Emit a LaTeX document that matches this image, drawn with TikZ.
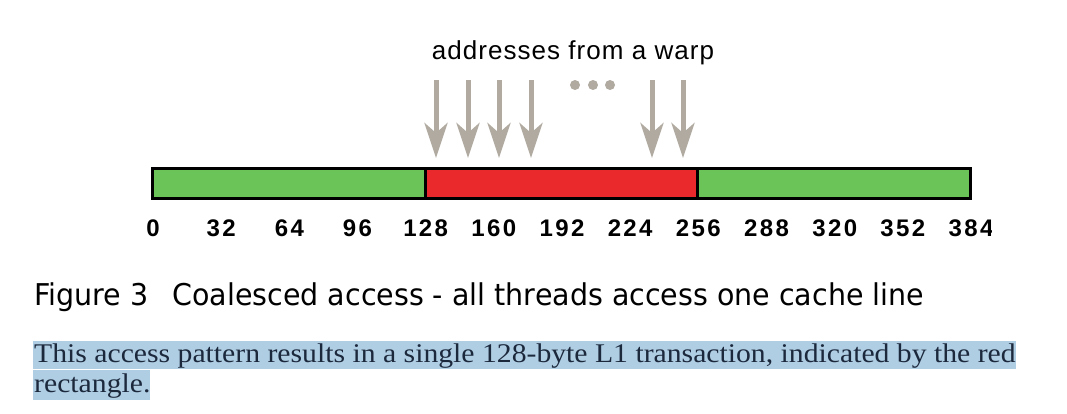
\documentclass[tikz,border=0pt]{standalone}
\usepackage{fontspec}
\usetikzlibrary{arrows.meta}
\setmainfont{Liberation Serif}[FakeStretch=1.10]
\newfontfamily\labfont[LetterSpace=10]{Liberation Sans}
\newfontfamily\warpfont[LetterSpace=4]{Liberation Sans}
\newfontfamily\capfont[FakeStretch=0.95]{DejaVu Sans}
\definecolor{barGreen}{RGB}{106,196,88}
\definecolor{barRed}{RGB}{233,41,44}
\definecolor{arrGray}{RGB}{176,170,160}
\definecolor{hlBlue}{RGB}{175,206,227}
\definecolor{bodyInk}{RGB}{28,40,60}
\tikzset{
  seg/.style={draw=black, line width=3pt},
  addr/.style={line width=5pt, draw=arrGray, -{Stealth[length=35pt,width=23pt,inset=10pt]}},
  tick/.style={font=\labfont\bfseries\fontsize{24}{24}\selectfont, anchor=center, inner sep=0pt},
  dot/.style={circle, fill=arrGray, minimum size=10pt, inner sep=0pt},
}
\begin{document}
\begin{tikzpicture}[x=1pt,y=-1pt]
\useasboundingbox (0,0) rectangle (1067,414);
% bar
\draw[seg, fill=barGreen] (152,169) rectangle (425,198);
\draw[seg, fill=barGreen] (697,169) rectangle (970,198);
\draw[seg, fill=barRed] (425,169) rectangle (697,198);
% title
\node[font=\warpfont\fontsize{26}{26}\selectfont, anchor=base] (warp) at (573,60) {addresses from a warp};
% arrows
\foreach \x/\n in {436/a1,468/a2,499/a3,531/a4,652/a5,683/a6}{
  \coordinate (\n s) at (\x,80);
  \coordinate (\n e) at (\x,158);
  \draw[addr] (\n s) -- (\n e);
}
\node[dot] (d1) at (575,85) {};
\node[dot] (d2) at (593,85) {};
\node[dot] (d3) at (610,85) {};
% labels
\begin{scope}
\clip (0,200) rectangle (991,250);
\foreach \v [count=\i from 0] in {0,32,64,96,128,160,192,224,256,288,320,352,384}{
  \node[tick] (t\i) at ({152+\i*68.17+1},228) {\v};
}
\end{scope}
% caption
\node[font=\capfont\fontsize{30}{30}\selectfont, anchor=base west, inner sep=0pt] (cap) at (34,305) {Figure 3\hspace{24pt}Coalesced access - all threads access one cache line};
% body
\fill[hlBlue] (33,341) rectangle (1016,369);
\fill[hlBlue] (33,370) rectangle (150,400);
\node[font=\fontsize{27}{30}\selectfont, text=bodyInk, anchor=base west, inner sep=0pt] (l1) at (34,362) {This access pattern results in a single 128-byte L1 transaction, indicated by the red};
\node[font=\fontsize{27}{30}\selectfont, text=bodyInk, anchor=base west, inner sep=0pt] (l2) at (34,392) {rectangle.};
\end{tikzpicture}
\end{document}
